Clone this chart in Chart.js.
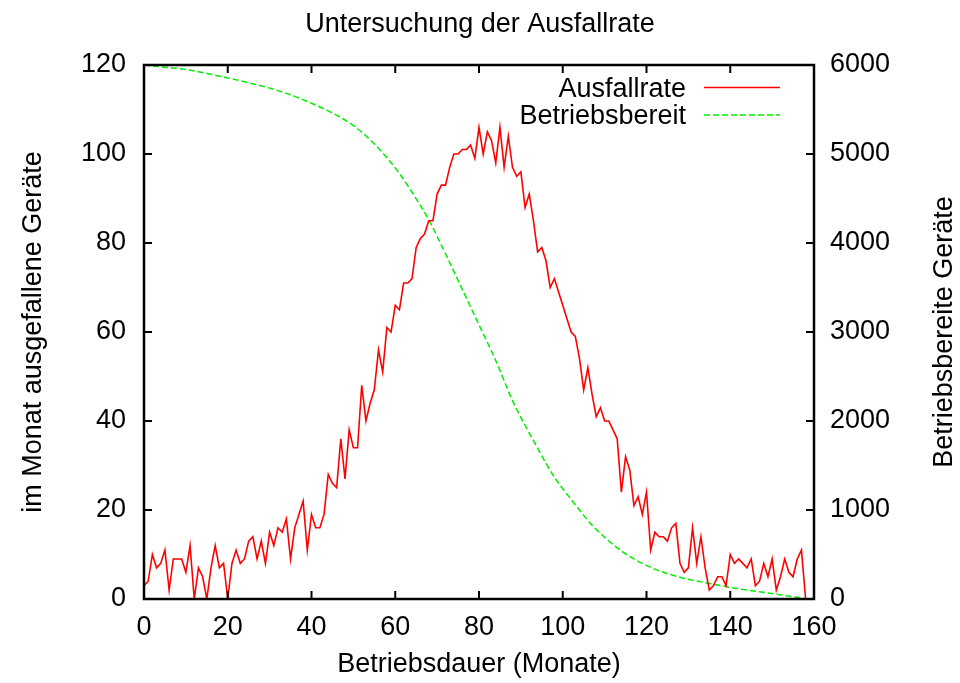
<!DOCTYPE html>
<html>
<head>
<meta charset="utf-8">
<title>Untersuchung der Ausfallrate</title>
<script src="https://cdn.jsdelivr.net/npm/chart.js@4.4.1/dist/chart.umd.min.js"></script>
<style>
  html, body { margin: 0; padding: 0; background: #fff; }
  #plot { display: block; }
</style>
</head>
<body>
<canvas id="plot" width="960" height="683"></canvas>
<script>
// failed devices per month (left axis), month 0..158
const failures = [
  3, 4, 10, 7, 8, 11, 2, 9, 9, 9,
  6, 12, 0, 7, 5, 0, 7, 12, 7, 8,
  0, 8, 11, 8, 9, 13, 14, 9, 13, 8,
  15, 12, 16, 15, 18, 9, 16, 19, 22, 11,
  19, 16, 16, 19, 28, 26, 25, 36, 27, 38,
  34, 34, 48, 40, 44, 47, 56, 51, 61, 60,
  66, 65, 71, 71, 72, 79, 81, 82, 85, 85,
  91, 93, 93, 97, 100, 100, 101, 101, 102, 99,
  106, 100, 105, 103, 98, 106, 97, 104, 97, 95,
  96, 88, 91, 85, 78, 79, 76, 70, 72, 69,
  66, 63, 60, 59, 54, 47, 52, 46, 41, 43,
  40, 40, 38, 36, 24, 32, 29, 21, 23, 19,
  24, 11, 15, 14, 14, 13, 16, 17, 8, 6,
  7, 16, 8, 14, 7, 2, 3, 5, 5, 3,
  10, 8, 9, 8, 7, 9, 3, 4, 8, 5,
  9, 2, 5, 9, 6, 5, 9, 11, 0
];
const failMonths = failures.map((_, i) => i);

// devices still in service (right axis)
const readyMonths = [0, 5, 10, 15, 20, 25, 30, 35, 40, 45, 50, 54, 58, 61, 64, 68, 72, 75, 80, 84, 88, 93, 98, 103, 107, 114, 121, 128, 135, 142, 151, 158];
const readyCount  = [6000, 5975, 5950, 5905, 5855, 5800, 5740, 5665, 5570, 5460, 5320, 5160, 4960, 4780, 4570, 4260, 3880, 3580, 3080, 2680, 2230, 1780, 1370, 1060, 830, 540, 355, 245, 175, 115, 55, 5];

const xTicks  = [0, 20, 40, 60, 80, 100, 120, 140, 160];
const yTicks  = [0, 20, 40, 60, 80, 100, 120];
const y2Ticks = [0, 1000, 2000, 3000, 4000, 5000, 6000];

const FONT = "'Liberation Sans', Arial, Helvetica, sans-serif";
const RED = "#ff0000";
const GREEN = "#00ee00";

Chart.defaults.font.family = FONT;
Chart.defaults.font.size = 27;
Chart.defaults.color = "#000";

const setTicks = list => scale => { scale.ticks = list.map(v => ({ value: v })); };
const plain = v => String(v);

// gnuplot-like frame: full border, inward ticks, key at top right, right label reading upwards
const frame = {
  id: "frame",
  afterDraw(chart) {
    const { ctx, chartArea: a, scales } = chart;
    const len = 8;
    ctx.save();
    ctx.strokeStyle = "#000";
    ctx.lineWidth = 2;
    ctx.beginPath();
    xTicks.forEach(v => {
      const px = scales.x.getPixelForValue(v);
      ctx.moveTo(px, a.bottom); ctx.lineTo(px, a.bottom - len);
      ctx.moveTo(px, a.top); ctx.lineTo(px, a.top + len);
    });
    yTicks.forEach(v => {
      const py = scales.y.getPixelForValue(v);
      ctx.moveTo(a.left, py); ctx.lineTo(a.left + len, py);
    });
    y2Ticks.forEach(v => {
      const py = scales.y2.getPixelForValue(v);
      ctx.moveTo(a.right, py); ctx.lineTo(a.right - len, py);
    });
    ctx.stroke();
    ctx.lineWidth = 2.5;
    ctx.strokeRect(a.left, a.top, a.right - a.left, a.bottom - a.top);

    // key
    ctx.font = "27px " + FONT;
    ctx.fillStyle = "#000";
    ctx.textAlign = "right";
    ctx.textBaseline = "alphabetic";
    ctx.fillText("Ausfallrate", 686, 97);
    ctx.fillText("Betriebsbereit", 686, 124);
    ctx.lineWidth = 1.5;
    ctx.strokeStyle = RED;
    ctx.beginPath(); ctx.moveTo(704, 87.5); ctx.lineTo(780, 87.5); ctx.stroke();
    ctx.strokeStyle = GREEN;
    ctx.setLineDash([6, 3]);
    ctx.beginPath(); ctx.moveTo(704, 115); ctx.lineTo(780, 115); ctx.stroke();
    ctx.setLineDash([]);

    // right axis title
    ctx.translate(945, (a.top + a.bottom) / 2);
    ctx.rotate(-Math.PI / 2);
    ctx.textAlign = "center";
    ctx.textBaseline = "middle";
    ctx.fillText("Betriebsbereite Geräte", 0, 0);
    ctx.restore();
  }
};

new Chart(document.getElementById("plot"), {
  type: "line",
  data: {
    datasets: [
      {
        label: "Ausfallrate",
        data: failMonths.map((m, i) => ({ x: m, y: failures[i] })),
        yAxisID: "y",
        borderColor: RED,
        borderWidth: 1.6,
        pointRadius: 0,
        tension: 0
      },
      {
        label: "Betriebsbereit",
        data: readyMonths.map((m, i) => ({ x: m, y: readyCount[i] })),
        yAxisID: "y2",
        borderColor: GREEN,
        borderWidth: 1.5,
        borderDash: [6, 3],
        pointRadius: 0,
        cubicInterpolationMode: "monotone"
      }
    ]
  },
  options: {
    responsive: false,
    animation: false,
    layout: { padding: 0 },
    plugins: {
      legend: { display: false },
      tooltip: { enabled: false },
      title: {
        display: true,
        text: "Untersuchung der Ausfallrate",
        color: "#000",
        font: { size: 27, weight: "normal" },
        padding: { top: 8, bottom: 24.6 }
      }
    },
    scales: {
      x: {
        type: "linear",
        min: 0, max: 160,
        afterBuildTicks: setTicks(xTicks),
        afterFit: s => { s.height = 84; },
        grid: { display: false, drawTicks: false },
        border: { display: false },
        ticks: { padding: 12, maxRotation: 0, callback: plain },
        title: { display: true, text: "Betriebsdauer (Monate)", padding: { top: 0, bottom: 2 } }
      },
      y: {
        position: "left",
        min: 0, max: 120,
        afterBuildTicks: setTicks(yTicks),
        afterFit: s => { s.width = 144; },
        grid: { display: false, drawTicks: false },
        border: { display: false },
        ticks: { padding: 18, callback: plain },
        title: { display: true, text: "im Monat ausgefallene Geräte", padding: { top: 17, bottom: 0 } }
      },
      y2: {
        position: "right",
        min: 0, max: 6000,
        afterBuildTicks: setTicks(y2Ticks),
        afterFit: s => { s.width = 146; },
        grid: { display: false, drawTicks: false },
        border: { display: false },
        ticks: { padding: 16, callback: plain }
      }
    }
  },
  plugins: [frame]
});
</script>
</body>
</html>
